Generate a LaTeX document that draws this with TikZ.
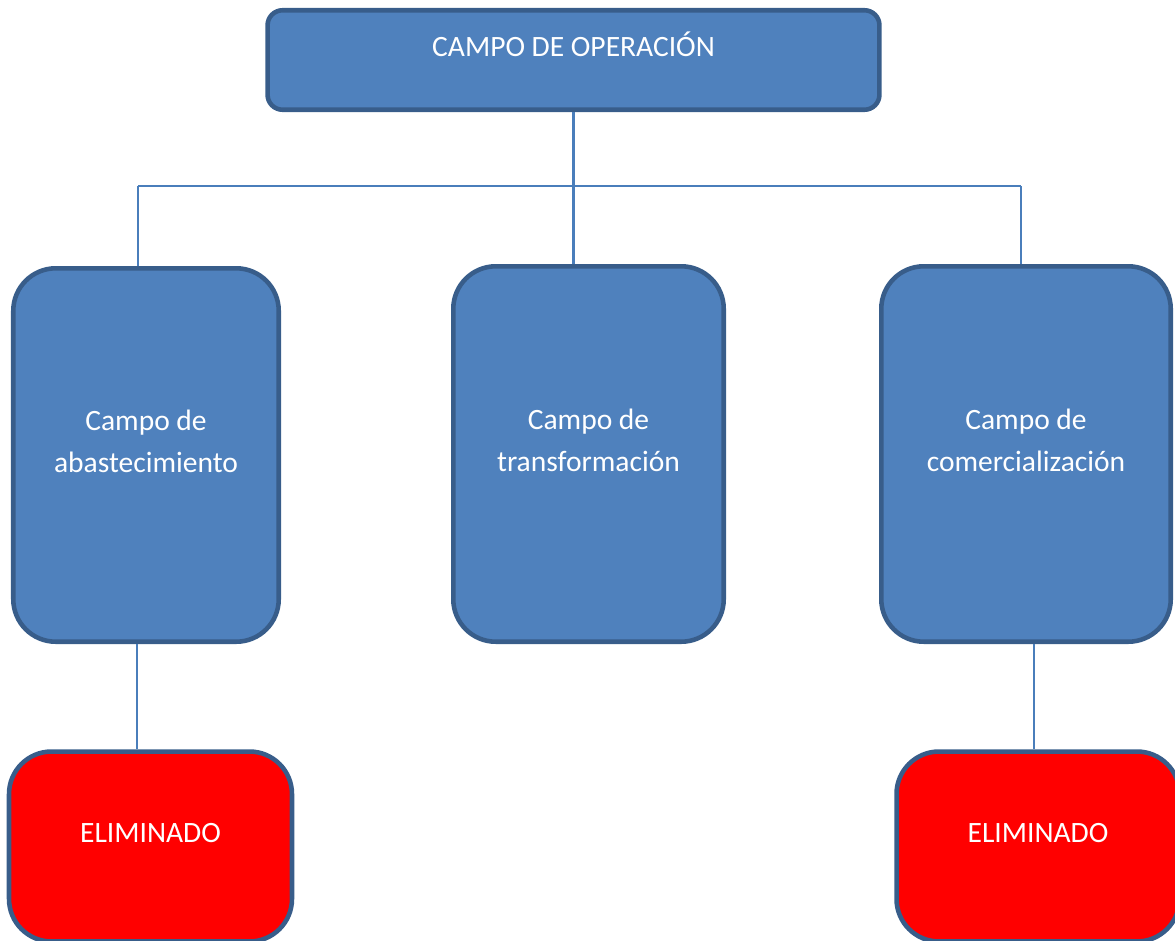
\documentclass[tikz,border=0pt]{standalone}
\usepackage{fontspec}
\setmainfont{Carlito}
\definecolor{boxblue}{HTML}{4F81BD}
\definecolor{boxedge}{HTML}{385D8A}
\definecolor{linkblue}{HTML}{4A7EBB}
\definecolor{boxred}{HTML}{FF0000}
\begin{document}
\begin{tikzpicture}[x=0.02cm,y=-0.02cm,
    campo/.style={draw=boxedge, line width=2.6pt, fill=boxblue, text=white,
        align=center, font=\fontsize{16.8}{24}\selectfont, rounded corners=0.85cm},
    elim/.style={campo, fill=boxred, minimum width=5.66cm, minimum height=3.8cm, text depth=0.56cm},
    link/.style={draw=linkblue, line width=1.2pt}]
    \useasboundingbox (0,0) rectangle (1175,940);
			\node[campo, rounded corners=0.3cm, minimum width=12.24cm, minimum height=1.99cm, text depth=0.62cm] (op) at (573.5,60) {CAMPO DE OPERACIÓN};
			\node[campo, minimum width=5.31cm, minimum height=7.47cm, text depth=0.56cm] (abast) at (146,455) {Campo de\\abastecimiento};
			\node[campo, minimum width=5.41cm, minimum height=7.51cm, text depth=0.56cm] (transf) at (588.5,454) {Campo de\\transformación};
			\node[campo, minimum width=5.79cm, minimum height=7.51cm, text depth=0.56cm] (comer) at (1026,454) {Campo de\\comercialización};
			\node[elim] (elimA) at (150.5,846.5) {ELIMINADO};
			\node[elim] (elimC) at (1038,846.5) {ELIMINADO};
			\coordinate (hubL) at (138,186);
			\coordinate (hubR) at (1021,186);
			\draw[link] (op.south) -- (op.south |- transf.north);
			\draw[link] (hubL) -- (hubR);
			\draw[link] (hubL) -- (hubL |- abast.north);
			\draw[link] (hubR) -- (hubR |- comer.north);
			\draw[link] (abast.south -| 137,0) -- (elimA.north -| 137,0);
			\draw[link] (comer.south -| 1034,0) -- (elimC.north -| 1034,0);
\end{tikzpicture}
\end{document}
